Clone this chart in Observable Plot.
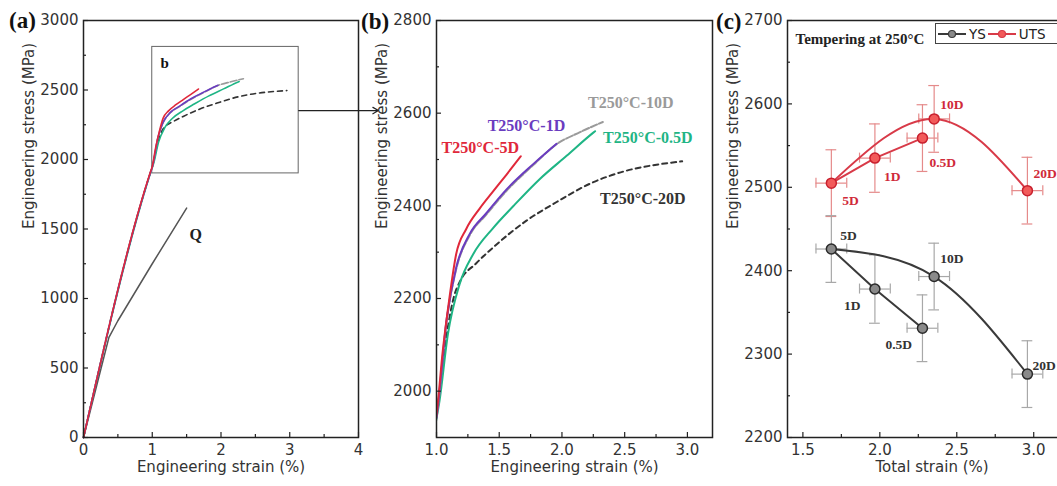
<!DOCTYPE html>
<html><head><meta charset="utf-8">
<script src="https://cdn.jsdelivr.net/npm/d3@7"></script>
<script src="https://cdn.jsdelivr.net/npm/@observablehq/plot@0.6"></script>
<style>
html,body{margin:0;padding:0;background:#fff;overflow:hidden;}
#wrap{position:relative;width:1057px;height:486px;overflow:hidden;background:#fff;}
.panel{position:absolute;top:0;}
.plab{position:absolute;font:bold 23px "Liberation Serif",serif;color:#111;line-height:1;}
#legend{position:absolute;left:935px;top:23px;height:19px;width:150px;border:1px solid #444;background:#fff;
  display:flex;align-items:center;font:13.5px "DejaVu Sans",sans-serif;color:#222;white-space:nowrap;}
#legend svg{display:block;}
</style></head><body><div id="wrap"></div>
<script>
// ---------- Tensile curves (engineering strain %, engineering stress MPa) ----------
const strain5D  = [0, 0.98, 1.00, 1.05, 1.10, 1.157, 1.237, 1.344, 1.451, 1.557, 1.672];
const stress5D  = [0, 1920, 1950, 2087, 2195, 2296, 2350, 2394, 2431, 2467, 2507];
const strain1D  = [0, 0.98, 1.00, 1.083, 1.157, 1.264, 1.397, 1.557, 1.771, 1.957];
const stress1D  = [0, 1915, 1945, 2159, 2267, 2339, 2384, 2435, 2490, 2534];
const strain10D = [0, 0.98, 1.00, 1.083, 1.157, 1.264, 1.397, 1.557, 1.771, 1.957, 2.144, 2.326];
const stress10D = [0, 1913, 1942, 2156, 2263, 2336, 2381, 2432, 2488, 2533, 2559, 2581];
const strain05D = [0, 0.98, 1.024, 1.091, 1.184, 1.291, 1.451, 1.611, 1.824, 2.037, 2.25, 2.264];
const stress05D = [0, 1912, 1979, 2123, 2231, 2295, 2352, 2399, 2458, 2508, 2558, 2561];
const strain20D = [0, 0.98, 1.00, 1.08, 1.14, 1.184, 1.317, 1.451, 1.717, 1.931, 2.25, 2.517, 2.784, 2.958];
const stress20D = [0, 1915, 1945, 2120, 2205, 2235, 2276, 2310, 2368, 2404, 2451, 2476, 2490, 2496];
const strainQ   = [0, 0.37, 0.5, 1.0, 1.5];
const stressQ   = [0, 720, 840, 1250, 1650];

const curveNames  = ["T250°C-20D", "T250°C-0.5D", "T250°C-10D", "T250°C-1D", "T250°C-5D"];
const curveColors = ["#333333", "#1fb585", "#9a9a9a", "#6a3cc0", "#e0283a"];
const curveDash   = ["5,4", null, "7,2", null, null];

// ---------- Panel (c): strength vs total strain ----------
const specimens   = ["5D", "1D", "0.5D", "10D", "20D"];
const totalStrain = [1.685, 1.968, 2.277, 2.353, 2.959];
const strainErr   = [0.1, 0.1, 0.1, 0.1, 0.1];
const ysValues    = [2426, 2378, 2331, 2393, 2276];
const ysErr       = [40, 41, 40, 40, 40];
const utsValues   = [2505, 2535, 2559, 2582, 2496];
const utsErr      = [40, 41, 40, 40, 40];

// tick values
const aXMajor = [0,1,2,3,4], aXMinor = [0.5,1.5,2.5,3.5];
const aYMajor = [0,500,1000,1500,2000,2500,3000], aYMinor = [250,750,1250,1750,2250,2750];
const bXMajor = [1.0,1.5,2.0,2.5,3.0], bXMinor = [1.25,1.75,2.25,2.75];
const bYMajor = [2000,2200,2400,2600,2800], bYMinor = [2100,2300,2500,2700];
const cXMajor = [1.5,2.0,2.5,3.0], cXMinor = [1.75,2.25,2.75];
const cYMajor = [2200,2300,2400,2500,2600,2700], cYMinor = [2250,2350,2450,2550,2650];

// ---------- build tables ----------
const curveStrains = [strain20D, strain05D, strain10D, strain1D, strain5D];
const curveStresses = [stress20D, stress05D, stress10D, stress1D, stress5D];
const curves = curveNames.map((name, i) => ({
  name, color: curveColors[i], dash: curveDash[i],
  pts: curveStrains[i].map((x, j) => ({x, y: curveStresses[i][j]}))
}));
const qPts = strainQ.map((x, j) => ({x, y: stressQ[j]}));

const H = 486, MT = 20, MB = 49, IH = H - MT - MB;
const wrap = document.getElementById("wrap");
const baseStyle = {background: "transparent", overflow: "visible", fontFamily: "'DejaVu Sans', sans-serif", fontSize: "15px", color: "#333"};

function ticksIn(xM, xm, yM, ym, iw) {
  return [
    Plot.tickX(xM, {x: d => d, insetTop: IH - 5, stroke: "#222", strokeWidth: 1.2}),
    Plot.tickX(xm, {x: d => d, insetTop: IH - 3, stroke: "#222", strokeWidth: 1.2}),
    Plot.tickY(yM, {y: d => d, insetRight: iw - 5, stroke: "#222", strokeWidth: 1.2}),
    Plot.tickY(ym, {y: d => d, insetRight: iw - 3, stroke: "#222", strokeWidth: 1.2})
  ];
}
function axes(xt, yt, xFmt, xTitle, yTitle, dxX = 0) {
  return [
    Plot.axisX(xt, {tickSize: 0, tickPadding: 7, label: null, tickFormat: xFmt, fill: "#333"}),
    Plot.axisY(yt, {tickSize: 0, tickPadding: 5, label: null, tickFormat: d => String(d), fill: "#333"}),
    Plot.text([xTitle], {frameAnchor: "bottom", dy: 34, dx: dxX, fontSize: 15, fill: "#333", text: d => d}),
    Plot.text([yTitle], {frameAnchor: "left", dx: -54, rotate: -90, fontSize: 15, fill: "#333", text: d => d})
  ];
}
function place(svg, left) { svg.classList.add("panel"); svg.style.left = left + "px"; wrap.appendChild(svg); }

// ---------- Panel (a) ----------
const insetBox = [{x1: 1.0, x2: 3.13, y1: 1900, y2: 2810}];
const zoomArrow = [{x1: 3.13, x2: 4.29, y: 2352}];
const aWidth = 370, aML = 83, aMR = 12;
const plotA = Plot.plot({
  width: aWidth, height: H, marginLeft: aML, marginRight: aMR, marginTop: MT, marginBottom: MB,
  style: baseStyle,
  x: {domain: [0, 4]}, y: {domain: [0, 3000]},
  marks: [
    Plot.rect(insetBox, {x1: "x1", x2: "x2", y1: "y1", y2: "y2", fill: "none", stroke: "#666", strokeWidth: 1}),
    Plot.arrow(zoomArrow, {x1: "x1", x2: "x2", y1: "y", y2: "y", stroke: "#222", strokeWidth: 1.2, headLength: 8}),
    Plot.text(["b"], {frameAnchor: "top-left", dx: 77, dy: 37, text: d => d, fontFamily: "'Liberation Serif', serif", fontWeight: "bold", fontSize: 15, fill: "#111"}),
    Plot.line(qPts, {x: "x", y: "y", stroke: "#555", strokeWidth: 1.5}),
    Plot.text(["Q"], {frameAnchor: "top-left", dx: 106, dy: 208, text: d => d, fontFamily: "'Liberation Serif', serif", fontWeight: "bold", fontSize: 16, fill: "#222"}),
    ...curves.map(c => Plot.line(c.pts, {x: "x", y: "y", stroke: c.color, strokeWidth: 1.6, strokeDasharray: c.dash, curve: "monotone-x"})),
    ...ticksIn(aXMajor, aXMinor, aYMajor, aYMinor, aWidth - aML - aMR),
    ...axes(aXMajor, aYMajor, d => String(d), "Engineering strain (%)", "Engineering stress (MPa)"),
    Plot.frame({stroke: "#222", strokeWidth: 1.5})
  ]
});
place(plotA, 0);

// ---------- Panel (b) ----------
const bLabels = [
  {name: "T250°C-10D", x: 2.208, y: 2623},
  {name: "T250°C-1D", x: 1.408, y: 2573},
  {name: "T250°C-5D", x: 1.04, y: 2526},
  {name: "T250°C-0.5D", x: 2.328, y: 2547},
  {name: "T250°C-20D", x: 2.304, y: 2415}
];
const colorOf = Object.fromEntries(curveNames.map((n, i) => [n, curveColors[i]]));
const bWidth = 350, bML = 66, bMR = 8;
const plotB = Plot.plot({
  width: bWidth, height: H, marginLeft: bML, marginRight: bMR, marginTop: MT, marginBottom: MB,
  style: baseStyle,
  x: {domain: [1.0, 3.2]}, y: {domain: [1900, 2800]},
  marks: [
    ...curves.map(c => Plot.line(c.pts, {x: "x", y: "y", stroke: c.color, strokeWidth: 2, strokeDasharray: c.dash, curve: "monotone-x", clip: true})),
    Plot.text(bLabels, {x: "x", y: "y", text: "name", textAnchor: "start", fill: d => colorOf[d.name],
      fontFamily: "'Liberation Serif', serif", fontWeight: "bold", fontSize: 16}),
    ...ticksIn(bXMajor, bXMinor, bYMajor, bYMinor, bWidth - bML - bMR),
    ...axes(bXMajor, bYMajor, d => d.toFixed(1), "Engineering strain (%)", "Engineering stress (MPa)"),
    Plot.frame({stroke: "#222", strokeWidth: 1.5})
  ]
});
place(plotB, 370);

// ---------- Panel (c) ----------
const pts = specimens.map((s, i) => ({s, x: totalStrain[i], ex: strainErr[i], ys: ysValues[i], eys: ysErr[i], uts: utsValues[i], euts: utsErr[i]}));
const bySpec = Object.fromEntries(pts.map(p => [p.s, p]));
const branchA = ["5D", "1D", "0.5D"].map(s => bySpec[s]);
const branchB = ["5D", "10D", "20D"].map(s => bySpec[s]);
const utsLabelOff = {"5D": [11, 18], "1D": [9, 19], "0.5D": [7, 25], "10D": [6, -14], "20D": [6, -17]};
const ysLabelOff  = {"5D": [9, -13], "1D": [-31, 17], "0.5D": [-37, 16], "10D": [6, -18], "20D": [5, -8]};
const capX = 0.035, capY = 6;
function errMarks(key, ekey, color) {
  return [
    Plot.ruleX(pts, {x: "x", y1: d => d[key] - d[ekey], y2: d => d[key] + d[ekey], stroke: color, strokeWidth: 1.2}),
    Plot.ruleY(pts, {y: d => d[key] - d[ekey], x1: d => d.x - capX, x2: d => d.x + capX, stroke: color, strokeWidth: 1.2}),
    Plot.ruleY(pts, {y: d => d[key] + d[ekey], x1: d => d.x - capX, x2: d => d.x + capX, stroke: color, strokeWidth: 1.2}),
    Plot.ruleY(pts, {y: key, x1: d => d.x - d.ex, x2: d => d.x + d.ex, stroke: color, strokeWidth: 1.2}),
    Plot.ruleX(pts, {x: d => d.x - d.ex, y1: d => d[key] - capY, y2: d => d[key] + capY, stroke: color, strokeWidth: 1.2}),
    Plot.ruleX(pts, {x: d => d.x + d.ex, y1: d => d[key] - capY, y2: d => d[key] + capY, stroke: color, strokeWidth: 1.2})
  ];
}
const serifBold = {fontFamily: "'Liberation Serif', serif", fontWeight: "bold", fontSize: 13.5, textAnchor: "start"};
const labelMarks = (key, off, color) => pts.map(p =>
  Plot.text([p], {x: "x", y: key, text: "s", dx: off[p.s][0], dy: off[p.s][1], fill: color, ...serifBold}));
const cWidth = 354, cML = 67, cMR = 10;
const plotC = Plot.plot({
  width: cWidth, height: H, marginLeft: cML, marginRight: cMR, marginTop: MT, marginBottom: MB,
  style: baseStyle,
  x: {domain: [1.4, 3.2]}, y: {domain: [2200, 2700]},
  marks: [
    ...errMarks("uts", "euts", "#e58a8a"),
    ...errMarks("ys", "eys", "#a8a8a8"),
    Plot.line(branchA, {x: "x", y: "uts", stroke: "#d83a48", strokeWidth: 2}),
    Plot.line(branchB, {x: "x", y: "uts", stroke: "#d83a48", strokeWidth: 2, curve: "natural"}),
    Plot.line(branchA, {x: "x", y: "ys", stroke: "#3a3a3a", strokeWidth: 2}),
    Plot.line(branchB, {x: "x", y: "ys", stroke: "#3a3a3a", strokeWidth: 2, curve: "natural"}),
    Plot.dot(pts, {x: "x", y: "uts", r: 5, fill: "#f25a5a", stroke: "#c8202e", strokeWidth: 1.5}),
    Plot.dot(pts, {x: "x", y: "ys", r: 5, fill: "#8a8a8a", stroke: "#2a2a2a", strokeWidth: 1.5}),
    ...labelMarks("uts", utsLabelOff, "#d02a3a"),
    ...labelMarks("ys", ysLabelOff, "#333"),
    Plot.text(["Tempering at 250°C"], {frameAnchor: "top-left", dx: 8, dy: 13, text: d => d, fill: "#222", ...serifBold, fontSize: 15}),
    ...ticksIn(cXMajor, cXMinor, cYMajor, cYMinor, cWidth - cML - cMR),
    ...axes(cXMajor, cYMajor, d => d.toFixed(1), "Total strain (%)", "Engineering stress (MPa)", 6),
    Plot.frame({stroke: "#222", strokeWidth: 1.5})
  ]
});
place(plotC, 720);

// legend for panel (c)
const legend = document.createElement("div");
legend.id = "legend";
function sw(color, fill) {
  return `<svg width="30" height="12" style="margin:0 2px 0 1px"><line x1="1" x2="29" y1="6" y2="6" stroke="${color}" stroke-width="2"/><circle cx="15" cy="6" r="3.5" fill="${fill}" stroke="${color}" stroke-width="1.2"/></svg>`;
}
legend.innerHTML = sw("#3a3a3a", "#8a8a8a") + "<span>YS</span>" + sw("#d83a48", "#f25a5a") + "<span>UTS</span>";
wrap.appendChild(legend);

// panel letters
[["(a)", 9, 9], ["(b)", 361, 10], ["(c)", 716, 10]].forEach(([t, l, tp]) => {
  const d = document.createElement("div"); d.className = "plab"; d.textContent = t;
  d.style.left = l + "px"; d.style.top = tp + "px"; wrap.appendChild(d);
});
</script></body></html>
